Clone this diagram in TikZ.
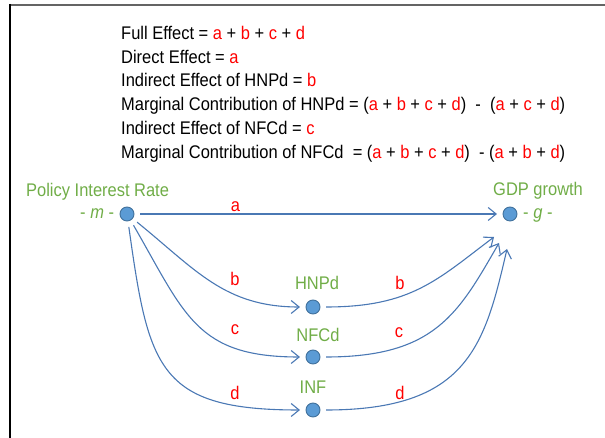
\documentclass[tikz,border=0pt]{standalone}
\usepackage{fontspec}
\setmainfont[FakeStretch=0.9]{Liberation Sans}
\usetikzlibrary{arrows.meta}
\definecolor{lnblue}{RGB}{74,120,180}
\definecolor{dotfill}{RGB}{91,155,213}
\definecolor{dotline}{RGB}{65,113,156}
\definecolor{lblgreen}{RGB}{112,173,71}
\definecolor{framegray}{RGB}{100,100,100}
\newcommand{\rd}[1]{\textcolor{red}{#1}}
\begin{document}
\begin{tikzpicture}[x=1pt,y=1pt,
  font=\fontsize{18.3}{22}\selectfont,
  dot/.style={circle, fill=dotfill, draw=dotline, line width=0.9pt, minimum size=14pt, inner sep=0pt, outer sep=6pt},
  conn/.style={draw=lnblue, line width=1.1pt, -{Straight Barb[length=8pt,width=13pt,line width=1.1pt]}},
  eqline/.style={anchor=base west, inner sep=0pt},
  grn/.style={text=lblgreen, inner sep=0pt},
  elab/.style={text=red, anchor=base, inner sep=0pt}]
\useasboundingbox (0,0) rectangle (605,438);
% frame
\draw[framegray, line width=2pt] (10,433) -- (605,433);
\draw[black, line width=1.6pt] (10,434) -- (10,0);
% equations
\node[eqline] (e1) at (121,398.7) {Full Effect = \rd{a} + \rd{b} + \rd{c} + \rd{d}};
\node[eqline] (e2) at (121,374.9) {Direct Effect = \rd{a}};
\node[eqline] (e3) at (121,351.1) {Indirect Effect of HNPd = \rd{b}};
\node[eqline] (e4) at (121,327.3) {Marginal Contribution of HNPd = (\rd{a} + \rd{b} + \rd{c} + \rd{d})~~-~~(\rd{a} + \rd{c} + \rd{d})};
\node[eqline] (e5) at (121,303.5) {Indirect Effect of NFCd = \rd{c}};
\node[eqline] (e6) at (121,279.7) {Marginal Contribution of NFCd~~= (\rd{a} + \rd{b} + \rd{c} + \rd{d})~~- (\rd{a} + \rd{b} + \rd{d})};
% dots
\node[dot] (m) at (127,224) {};
\node[dot] (g) at (510,224) {};
\node[dot] (hnpd) at (313,131) {};
\node[dot] (nfcd) at (313,81) {};
\node[dot] (inf) at (313,28) {};
\coordinate (g1) at (494,201);
\coordinate (g2) at (499,195);
\coordinate (g3) at (507,189);
% green labels
\node[grn, anchor=base west] (lpol) at (26,241) {Policy Interest Rate};
\node[grn, anchor=base west] (lm) at (80,219) {- \textit{m} -};
\node[grn, anchor=base west] (lgdp) at (493,242.5) {GDP growth};
\node[grn, anchor=base west] (lg) at (523,219) {- \textit{g} -};
\node[grn, anchor=base] (lh) at (317,148) {HNPd};
\node[grn, anchor=base] (ln) at (318,96.3) {NFCd};
\node[grn, anchor=base] (li) at (313,44) {INF};
% connectors
\draw[conn] (m) -- (g);
\draw[conn] (m) to[out=-39, in=180, looseness=1.05] (hnpd);
\draw[conn] (m) to[out=-60, in=180, looseness=1.25] (nfcd);
\draw[conn] (m) to[out=-82, in=180, looseness=1.45] (inf);
\draw[conn] (hnpd) to[out=0, in=-143, out looseness=1.2, in looseness=1] (g1);
\draw[conn] (nfcd) to[out=0, in=-120, out looseness=1.35, in looseness=1] (g2);
\draw[conn] (inf) to[out=0, in=-103, out looseness=1.5, in looseness=1.05] (g3);
% edge labels
\node[elab] (la) at (235.5,226) {a};
\node[elab] (lb1) at (235,152) {b};
\node[elab] (lb2) at (400,148) {b};
\node[elab] (lc1) at (235,103) {c};
\node[elab] (lc2) at (399,100.7) {c};
\node[elab] (ld1) at (235,38.7) {d};
\node[elab] (ld2) at (400,38) {d};
\end{tikzpicture}
\end{document}
